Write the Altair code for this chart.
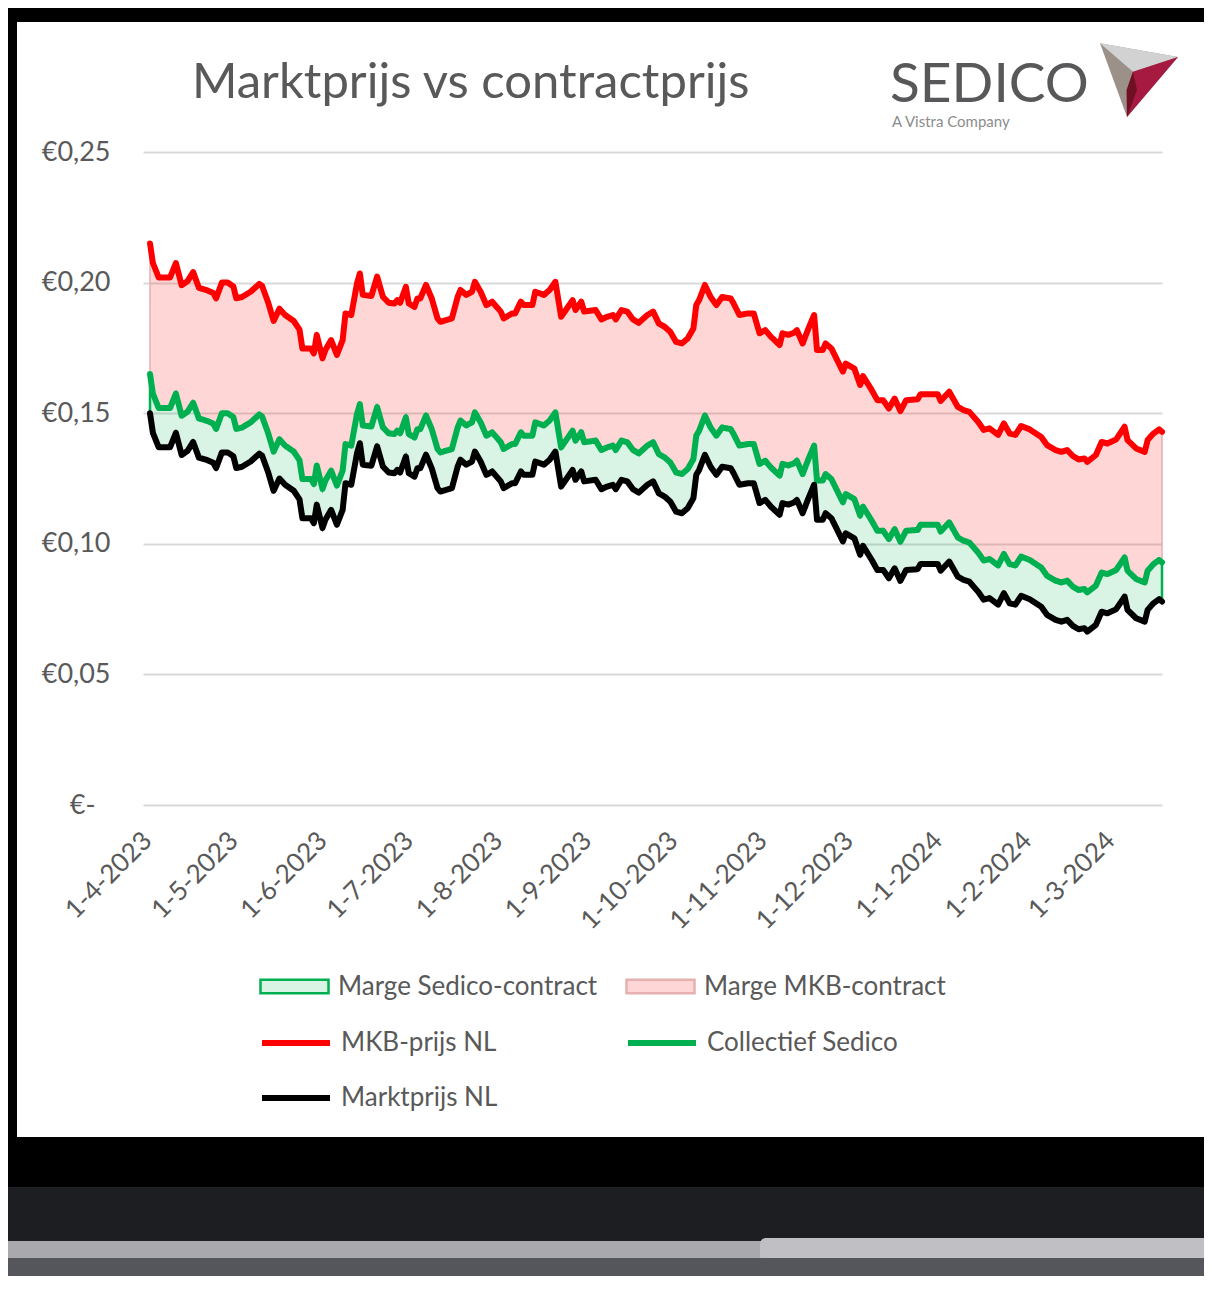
import altair as alt
import pandas as pd

# ---------------- data ----------------
dates = [
    "2023-04-01", "2023-04-02", "2023-04-04", "2023-04-08", "2023-04-10", "2023-04-12", "2023-04-14", "2023-04-16",
    "2023-04-18", "2023-04-21", "2023-04-23", "2023-04-24", "2023-04-26", "2023-04-28", "2023-04-30", "2023-05-01",
    "2023-05-03", "2023-05-06", "2023-05-09", "2023-05-10", "2023-05-12", "2023-05-14", "2023-05-16", "2023-05-18",
    "2023-05-21", "2023-05-23", "2023-05-24", "2023-05-27", "2023-05-28", "2023-05-29", "2023-05-31", "2023-06-01",
    "2023-06-03", "2023-06-05", "2023-06-07", "2023-06-08", "2023-06-10", "2023-06-12", "2023-06-13", "2023-06-14",
    "2023-06-17", "2023-06-19", "2023-06-21", "2023-06-23", "2023-06-25", "2023-06-26", "2023-06-27", "2023-06-29",
    "2023-06-30", "2023-07-02", "2023-07-03", "2023-07-04", "2023-07-06", "2023-07-08", "2023-07-10", "2023-07-11",
    "2023-07-15", "2023-07-17", "2023-07-18", "2023-07-20", "2023-07-22", "2023-07-23", "2023-07-25", "2023-07-27",
    "2023-07-28", "2023-07-29", "2023-08-01", "2023-08-02", "2023-08-05", "2023-08-06", "2023-08-08", "2023-08-09",
    "2023-08-12", "2023-08-13", "2023-08-16", "2023-08-18", "2023-08-20", "2023-08-22", "2023-08-24", "2023-08-26",
    "2023-08-27", "2023-08-29", "2023-08-30", "2023-09-03", "2023-09-05", "2023-09-07", "2023-09-09", "2023-09-10",
    "2023-09-12", "2023-09-14", "2023-09-16", "2023-09-18", "2023-09-21", "2023-09-23", "2023-09-25", "2023-09-27",
    "2023-09-29", "2023-10-01", "2023-10-03", "2023-10-05", "2023-10-07", "2023-10-08", "2023-10-09", "2023-10-11",
    "2023-10-13", "2023-10-15", "2023-10-17", "2023-10-20", "2023-10-21", "2023-10-23", "2023-10-26", "2023-10-28",
    "2023-10-30", "2023-11-01", "2023-11-03", "2023-11-06", "2023-11-07", "2023-11-09", "2023-11-11", "2023-11-12",
    "2023-11-14", "2023-11-16", "2023-11-18", "2023-11-19", "2023-11-21", "2023-11-22", "2023-11-24", "2023-11-28",
    "2023-11-29", "2023-12-02", "2023-12-04", "2023-12-05", "2023-12-08", "2023-12-10", "2023-12-12", "2023-12-14",
    "2023-12-16", "2023-12-18", "2023-12-20", "2023-12-24", "2023-12-25", "2023-12-31", "2024-01-01", "2024-01-04",
    "2024-01-07", "2024-01-09", "2024-01-11", "2024-01-14", "2024-01-16", "2024-01-18", "2024-01-21", "2024-01-23",
    "2024-01-25", "2024-01-27", "2024-01-29", "2024-02-01", "2024-02-05", "2024-02-07", "2024-02-10", "2024-02-12",
    "2024-02-14", "2024-02-16", "2024-02-18", "2024-02-20", "2024-02-21", "2024-02-24", "2024-02-26", "2024-02-28",
    "2024-03-02", "2024-03-05", "2024-03-06", "2024-03-09", "2024-03-12", "2024-03-13", "2024-03-15", "2024-03-17",
    "2024-03-18",
]

mkb_prijs = [
    0.2150, 0.2075, 0.2020, 0.2020, 0.2075, 0.1990, 0.2005, 0.2040, 0.1980, 0.1970, 0.1960, 0.1940, 0.2000, 0.2000,
    0.1985, 0.1940, 0.1945, 0.1965, 0.1995, 0.1987, 0.1927, 0.1853, 0.1900, 0.1876, 0.1853, 0.1820, 0.1748, 0.1748,
    0.1729, 0.1800, 0.1710, 0.1742, 0.1780, 0.1723, 0.1780, 0.1882, 0.1876, 0.1997, 0.2035, 0.1953, 0.1949, 0.2023,
    0.1946, 0.1923, 0.1920, 0.1933, 0.1923, 0.1984, 0.1920, 0.1907, 0.1939, 0.1939, 0.1991, 0.1939, 0.1863, 0.1850,
    0.1863, 0.1945, 0.1972, 0.1953, 0.1965, 0.2003, 0.1965, 0.1914, 0.1920, 0.1927, 0.1889, 0.1863, 0.1882, 0.1882,
    0.1927, 0.1914, 0.1914, 0.1965, 0.1953, 0.1972, 0.2003, 0.1869, 0.1901, 0.1933, 0.1895, 0.1927, 0.1889, 0.1895,
    0.1859, 0.1869, 0.1876, 0.1859, 0.1895, 0.1889, 0.1859, 0.1846, 0.1876, 0.1889, 0.1843, 0.1831, 0.1811, 0.1773,
    0.1767, 0.1786, 0.1824, 0.1914, 0.1933, 0.1991, 0.1945, 0.1914, 0.1945, 0.1939, 0.1920, 0.1876, 0.1882, 0.1882,
    0.1806, 0.1818, 0.1792, 0.1761, 0.1806, 0.1800, 0.1808, 0.1818, 0.1767, 0.1824, 0.1876, 0.1742, 0.1742, 0.1767,
    0.1748, 0.1659, 0.1690, 0.1671, 0.1608, 0.1642, 0.1589, 0.1550, 0.1550, 0.1518, 0.1556, 0.1508, 0.1550, 0.1553,
    0.1573, 0.1573, 0.1547, 0.1582, 0.1524, 0.1512, 0.1505, 0.1467, 0.1436, 0.1442, 0.1417, 0.1461, 0.1422, 0.1417,
    0.1451, 0.1438, 0.1409, 0.1378, 0.1359, 0.1352, 0.1359, 0.1336, 0.1323, 0.1327, 0.1314, 0.1340, 0.1390, 0.1384,
    0.1399, 0.1448, 0.1397, 0.1365, 0.1352, 0.1397, 0.1422, 0.1438, 0.1429,
]

collectief_sedico = [
    0.1650, 0.1575, 0.1520, 0.1520, 0.1575, 0.1490, 0.1505, 0.1540, 0.1480, 0.1470, 0.1460, 0.1440, 0.1500, 0.1500,
    0.1485, 0.1440, 0.1445, 0.1465, 0.1495, 0.1487, 0.1427, 0.1353, 0.1400, 0.1376, 0.1353, 0.1320, 0.1248, 0.1248,
    0.1229, 0.1300, 0.1210, 0.1242, 0.1280, 0.1223, 0.1280, 0.1382, 0.1376, 0.1497, 0.1535, 0.1453, 0.1449, 0.1523,
    0.1446, 0.1423, 0.1420, 0.1433, 0.1423, 0.1484, 0.1420, 0.1407, 0.1439, 0.1439, 0.1491, 0.1439, 0.1363, 0.1350,
    0.1363, 0.1445, 0.1472, 0.1453, 0.1465, 0.1503, 0.1465, 0.1414, 0.1420, 0.1427, 0.1389, 0.1363, 0.1382, 0.1382,
    0.1427, 0.1414, 0.1414, 0.1465, 0.1453, 0.1472, 0.1503, 0.1369, 0.1401, 0.1433, 0.1395, 0.1427, 0.1389, 0.1395,
    0.1359, 0.1369, 0.1376, 0.1359, 0.1395, 0.1389, 0.1359, 0.1346, 0.1376, 0.1389, 0.1343, 0.1331, 0.1311, 0.1273,
    0.1267, 0.1286, 0.1324, 0.1414, 0.1433, 0.1491, 0.1445, 0.1414, 0.1445, 0.1439, 0.1420, 0.1376, 0.1382, 0.1382,
    0.1306, 0.1318, 0.1292, 0.1261, 0.1306, 0.1300, 0.1308, 0.1318, 0.1267, 0.1324, 0.1376, 0.1242, 0.1242, 0.1267,
    0.1248, 0.1159, 0.1190, 0.1171, 0.1108, 0.1142, 0.1089, 0.1050, 0.1050, 0.1018, 0.1056, 0.1008, 0.1050, 0.1053,
    0.1073, 0.1073, 0.1047, 0.1082, 0.1024, 0.1012, 0.1005, 0.0967, 0.0936, 0.0942, 0.0917, 0.0961, 0.0922, 0.0917,
    0.0951, 0.0938, 0.0909, 0.0878, 0.0859, 0.0852, 0.0859, 0.0836, 0.0823, 0.0827, 0.0814, 0.0840, 0.0890, 0.0884,
    0.0899, 0.0948, 0.0897, 0.0865, 0.0852, 0.0897, 0.0922, 0.0938, 0.0929,
]

marktprijs = [
    0.1500, 0.1425, 0.1370, 0.1370, 0.1425, 0.1340, 0.1355, 0.1390, 0.1330, 0.1320, 0.1310, 0.1290, 0.1350, 0.1350,
    0.1335, 0.1290, 0.1295, 0.1315, 0.1345, 0.1337, 0.1277, 0.1203, 0.1250, 0.1226, 0.1203, 0.1170, 0.1098, 0.1098,
    0.1079, 0.1150, 0.1060, 0.1092, 0.1130, 0.1073, 0.1130, 0.1232, 0.1226, 0.1347, 0.1385, 0.1303, 0.1299, 0.1373,
    0.1296, 0.1273, 0.1270, 0.1283, 0.1273, 0.1334, 0.1270, 0.1257, 0.1289, 0.1289, 0.1341, 0.1289, 0.1213, 0.1200,
    0.1213, 0.1295, 0.1322, 0.1303, 0.1315, 0.1353, 0.1315, 0.1264, 0.1270, 0.1277, 0.1239, 0.1213, 0.1232, 0.1232,
    0.1277, 0.1264, 0.1264, 0.1315, 0.1303, 0.1322, 0.1353, 0.1219, 0.1251, 0.1283, 0.1245, 0.1277, 0.1239, 0.1245,
    0.1209, 0.1219, 0.1226, 0.1209, 0.1245, 0.1239, 0.1209, 0.1196, 0.1226, 0.1239, 0.1193, 0.1181, 0.1161, 0.1123,
    0.1117, 0.1136, 0.1174, 0.1264, 0.1283, 0.1341, 0.1295, 0.1264, 0.1295, 0.1289, 0.1270, 0.1226, 0.1232, 0.1232,
    0.1156, 0.1168, 0.1142, 0.1111, 0.1156, 0.1150, 0.1158, 0.1168, 0.1117, 0.1174, 0.1226, 0.1092, 0.1092, 0.1117,
    0.1098, 0.1009, 0.1040, 0.1021, 0.0958, 0.0992, 0.0939, 0.0900, 0.0900, 0.0868, 0.0906, 0.0858, 0.0900, 0.0903,
    0.0923, 0.0923, 0.0897, 0.0932, 0.0874, 0.0862, 0.0855, 0.0817, 0.0786, 0.0792, 0.0767, 0.0811, 0.0772, 0.0767,
    0.0801, 0.0788, 0.0759, 0.0728, 0.0709, 0.0702, 0.0709, 0.0686, 0.0673, 0.0677, 0.0664, 0.0690, 0.0740, 0.0734,
    0.0749, 0.0798, 0.0747, 0.0715, 0.0702, 0.0747, 0.0772, 0.0788, 0.0779,
]

tick_dates = [
    "2023-04-01", "2023-05-01", "2023-06-01", "2023-07-01", "2023-08-01", "2023-09-01",
    "2023-10-01", "2023-11-01", "2023-12-01", "2024-01-01", "2024-02-01", "2024-03-01",
]
y_ticks = [0.0, 0.05, 0.10, 0.15, 0.20, 0.25]
x_range = ["2023-03-29 13:30", "2024-03-18 00:00"]

title_text = "Marktprijs vs contractprijs"
logo_text = "SEDICO"
logo_sub = "A Vistra Company"

name_sedico_margin = "Marge Sedico-contract"
name_mkb_margin = "Marge MKB-contract"
name_mkb = "MKB-prijs NL"
name_sedico = "Collectief Sedico"
name_markt = "Marktprijs NL"

red, green, black = "#ff0000", "#00b050", "#000000"
pink_swatch, pink_edge = "#ffd6d6", "#e6b0b0"
mint_swatch = "#d9f3e5"

# ---------------- chart ----------------
df = pd.DataFrame({"date": dates, "mkb": mkb_prijs, "sedico": collectief_sedico, "markt": marktprijs})
one = pd.DataFrame({"k": [0]})


def ms(d):
    return int(pd.Timestamp(d, tz="UTC").timestamp() * 1000)


FONT = "Lato"
GREY = "#595959"

x_enc = alt.X(
    "date:T",
    title=None,
    scale=alt.Scale(type="utc", domain=[ms(d) for d in x_range]),
    axis=alt.Axis(
        values=[ms(d) for d in tick_dates],
        labelExpr="utcFormat(datum.value, '%-d-%-m-%Y')",
        labelAngle=-45,
        labelAlign="right",
        labelBaseline="top",
        labelPadding=22,
        labelOffset=-12,
        labelFontSize=26,
        grid=False,
        ticks=False,
        domain=False,
        labelOverlap=False,
    ),
)


def y_enc(field):
    return alt.Y(
        field + ":Q",
        title=None,
        scale=alt.Scale(domain=[0, 0.25], nice=False, zero=True),
        axis=alt.Axis(
            values=y_ticks,
            labelExpr="datum.value == 0 ? '€-' : '€' + replace(format(datum.value, '.2f'), '.', ',')",
            labelFontSize=27,
            labelPadding={"condition": {"test": "datum.value == 0", "value": 48}, "value": 33},
            grid=True,
            gridColor="#d9d9d9",
            gridWidth=2,
            ticks=False,
            domain=False,
        ),
    )


RECT = "M-1,-0.2H1V0.2H-1Z"
ROW = [799, 854, 909]
COL = [116, 482]


def legend(x, y, kind, sw, stroke_color=None):
    kw = dict(
        title=None, orient="none", legendX=x, legendY=y, symbolSize=4624,
        symbolStrokeWidth=sw, labelOffset=8, labelLimit=500, symbolOpacity=1,
        symbolType=RECT if kind == "rect" else "stroke",
    )
    if stroke_color:
        kw["symbolStrokeColor"] = stroke_color
    return alt.Legend(**kw)


def layer_base(name):
    return alt.Chart(df).transform_calculate(series=f"'{name}'").encode(x=x_enc)


# visible, translucent margin bands (gridlines show through, as in the original)
pink_area = layer_base(name_mkb_margin).mark_area(
    fill=red, fillOpacity=0.16, stroke=pink_edge, strokeWidth=1.5
).encode(y=y_enc("sedico"), y2="mkb:Q")
green_area = layer_base(name_sedico_margin).mark_area(
    fill=green, fillOpacity=0.15, stroke=green, strokeWidth=2.5
).encode(y=y_enc("markt"), y2="sedico:Q")

# invisible twins of the bands that carry the legend entries
pink_key = layer_base(name_mkb_margin).mark_area(
    stroke=pink_edge, fillOpacity=0, strokeOpacity=0
).encode(
    y=y_enc("sedico"),
    y2="mkb:Q",
    fill=alt.Fill(
        "series:N",
        scale=alt.Scale(domain=[name_mkb_margin], range=[pink_swatch]),
        legend=legend(COL[1], ROW[0], "rect", 2.5, pink_edge),
    ),
)
green_key = layer_base(name_sedico_margin).mark_area(
    fill=mint_swatch, stroke=green, fillOpacity=0, strokeOpacity=0
).encode(
    y=y_enc("markt"),
    y2="sedico:Q",
    strokeWidth=alt.StrokeWidth(
        "series:N",
        scale=alt.Scale(type="ordinal", domain=[name_sedico_margin], range=[2.5]),
        legend=legend(COL[0], ROW[0], "rect", 2.5),
    ),
)

line_kw = dict(strokeWidth=6, strokeJoin="round", strokeCap="round")
red_line = layer_base(name_mkb).mark_line(**line_kw).encode(
    y=y_enc("mkb"),
    stroke=alt.Stroke(
        "series:N",
        scale=alt.Scale(domain=[name_mkb], range=[red]),
        legend=legend(COL[0], ROW[1], "stroke", 6),
    ),
)
green_line = layer_base(name_sedico).mark_line(stroke=green, **line_kw).encode(
    y=y_enc("sedico"),
    strokeDash=alt.StrokeDash(
        "series:N",
        scale=alt.Scale(domain=[name_sedico], range=[[1, 0]]),
        legend=legend(COL[1], ROW[1], "stroke", 6),
    ),
)
black_line = layer_base(name_markt).mark_line(**line_kw).encode(
    y=y_enc("markt"),
    color=alt.Color(
        "series:N",
        scale=alt.Scale(domain=[name_markt], range=[black]),
        legend=legend(COL[0], ROW[2], "stroke", 6),
    ),
)

# ---------------- decoration: laptop frame around the screen, logo, title ----------------
deco = alt.Chart(one)
frame_top = deco.mark_rect(color="#000000").encode(
    x=alt.value(-140), x2=alt.value(1070), y=alt.value(-150), y2=alt.value(-130)
)
frame_left = deco.mark_rect(color="#000000").encode(
    x=alt.value(-140), x2=alt.value(-126), y=alt.value(-150), y2=alt.value(985)
)
frame_bottom = deco.mark_rect(color="#000000").encode(
    x=alt.value(-140), x2=alt.value(1070), y=alt.value(985), y2=alt.value(1035)
)
dark_band = deco.mark_rect(color="#1d1e22").encode(
    x=alt.value(-140), x2=alt.value(1070), y=alt.value(1035), y2=alt.value(1089)
)
grey_strip = deco.mark_rect(color="#a9a8ad").encode(
    x=alt.value(-140), x2=alt.value(1070), y=alt.value(1089), y2=alt.value(1106)
)
hinge = deco.mark_rect(color="#c0bfc4", cornerRadius=6).encode(
    x=alt.value(617), x2=alt.value(1075), y=alt.value(1086), y2=alt.value(1110)
)
base_strip = deco.mark_rect(color="#55555c").encode(
    x=alt.value(-140), x2=alt.value(1070), y=alt.value(1106), y2=alt.value(1130)
)

title_mark = deco.mark_text(
    text=title_text, font=FONT, fontSize=49, color=GREY, align="left", baseline="alphabetic"
).encode(x=alt.value(49), y=alt.value(-54))

logo_word = deco.mark_text(
    text=logo_text, font=FONT, fontSize=55, color="#58585a", align="left", baseline="alphabetic"
).encode(x=alt.value(747), y=alt.value(-50))
logo_small = deco.mark_text(
    text=logo_sub, font=FONT, fontSize=15, color="#8c8c8c", align="left", baseline="alphabetic"
).encode(x=alt.value(749), y=alt.value(-25))

tri_grey = deco.mark_point(
    shape="M-0.975,-0.9175L0.975,-0.575L-0.3,0.925Z", filled=True, size=6400, color="#9b9189", opacity=1
).encode(x=alt.value(996), y=alt.value(-72))
tri_light = deco.mark_point(
    shape="M-0.975,-0.9175L0.975,-0.575L-0.15,-0.2075Z", filled=True, size=6400, color="#d3d2d2", opacity=1
).encode(x=alt.value(996), y=alt.value(-72))
tri_red = deco.mark_point(
    shape="M0.975,-0.575L-0.15,-0.2075L-0.3075,0.25L-0.3,0.925Z", filled=True, size=6400, color="#a61a42", opacity=1
).encode(x=alt.value(996), y=alt.value(-72))
tri_dark = deco.mark_point(
    shape="M-0.15,-0.2075L-0.3075,0.25L-0.3,0.925L-0.05,0.25Z", filled=True, size=6400, color="#6f1024", opacity=1
).encode(x=alt.value(996), y=alt.value(-72))

chart = alt.layer(
    pink_area, green_area, pink_key, green_key, red_line, green_line, black_line,
    frame_top, frame_left, frame_bottom, dark_band, grey_strip, hinge, base_strip,
    title_mark, tri_grey, tri_light, tri_red, tri_dark, logo_word, logo_small,
).properties(
    width=1019,
    height=653,
    background="#ffffff",
    padding={"left": 135, "top": 144, "right": 42, "bottom": 471},
    autosize=alt.AutoSizeParams(type="none"),
).configure_view(
    stroke=None
).configure_axis(
    labelFont=FONT, labelColor=GREY
).configure_legend(
    labelFont=FONT, labelFontSize=26, labelColor=GREY, padding=0, offset=0
)

chart.save("out.html", embed_options={"renderer": "svg", "actions": False})
